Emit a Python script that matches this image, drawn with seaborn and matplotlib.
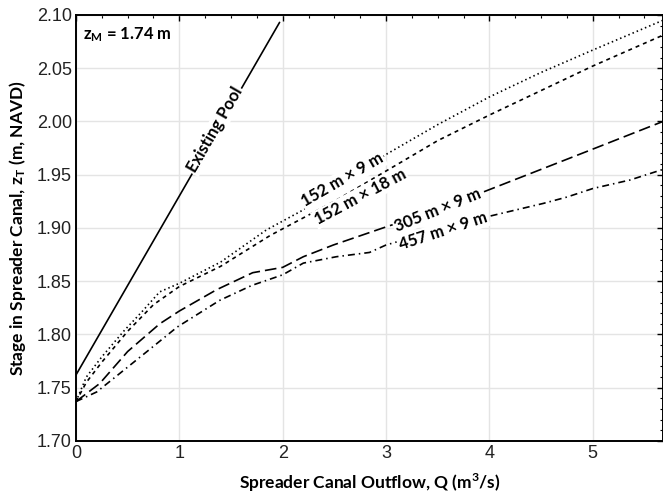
import numpy as np
import pandas as pd
import matplotlib
matplotlib.use("Agg")
import matplotlib.pyplot as plt
import seaborn as sns

# values
pool_q = [0.0, 1.97]
pool_z = [1.762, 2.093]

q_152x9 = [0, 0.1, 0.25, 0.47, 0.635, 0.81, 1.0, 1.4, 1.84, 2.2, 2.5, 3.0, 3.5, 4.0, 4.5, 5.0, 5.68]
z_152x9 = [1.737, 1.760, 1.779, 1.804, 1.821, 1.840, 1.848, 1.868, 1.898, 1.917, 1.935, 1.969,
           1.997, 2.023, 2.046, 2.067, 2.095]

q_152x18 = [0, 0.1, 0.25, 0.5, 0.75, 1.0, 1.4, 1.88, 2.5, 3.15, 3.5, 4.0, 4.5, 5.0, 5.68]
z_152x18 = [1.737, 1.755, 1.774, 1.803, 1.828, 1.845, 1.864, 1.893, 1.925, 1.962, 1.982, 2.006,
            2.029, 2.052, 2.081]

q_305x9 = [0, 0.23, 0.5, 0.81, 1.0, 1.36, 1.71, 2.0, 2.2, 2.49, 3.0, 3.5, 4.0, 4.5, 5.0, 5.68]
z_305x9 = [1.737, 1.754, 1.784, 1.810, 1.822, 1.842, 1.858, 1.863, 1.873, 1.884, 1.901, 1.917,
           1.936, 1.955, 1.974, 2.000]

q_457x9 = [0, 0.2, 0.38, 0.7, 0.98, 1.39, 1.7, 2.0, 2.2, 2.52, 2.84, 3.0, 3.5, 4.0, 4.52, 4.75,
           5.0, 5.36, 5.68]
z_457x9 = [1.737, 1.746, 1.760, 1.785, 1.807, 1.832, 1.846, 1.856, 1.867, 1.873, 1.877, 1.884,
           1.898, 1.911, 1.923, 1.929, 1.937, 1.945, 1.955]

sns.set_style("white")
plt.rcParams['font.family'] = ['Liberation Sans', 'DejaVu Sans']
plt.rcParams['mathtext.fontset'] = 'custom'
plt.rcParams['mathtext.rm'] = 'Lato'
plt.rcParams['mathtext.bf'] = 'Lato:bold'

LBL = dict(family=['Lato', 'DejaVu Sans'], fontweight='bold', color='black')

fig = plt.figure(figsize=(6.63, 4.98), dpi=100)
ax = fig.add_axes([0.1146, 0.1145, 0.8854, 0.8555])

lw = 1.2
series = [
    (pool_q, pool_z, '-'),
    (q_152x9, z_152x9, (0, (0.9, 1.8))),
    (q_152x18, z_152x18, (0, (2.4, 2.4))),
    (q_305x9, z_305x9, (0, (7, 3))),
    (q_457x9, z_457x9, (0, (4.2, 2.4, 0.9, 2.4))),
]
for q, z, ls in series:
    df = pd.DataFrame({'Q': q, 'z': z})
    sns.lineplot(data=df, x='Q', y='z', ax=ax, color='black', lw=lw, linestyle=ls, sort=False)

ax.set_xlim(0, 5.68)
ax.set_ylim(1.70, 2.10)
ax.set_xticks(np.arange(0, 6, 1))
ax.set_yticks(np.arange(1.70, 2.101, 0.05))
ax.set_yticklabels([f"{v:.2f}" for v in np.arange(1.70, 2.101, 0.05)])
ax.xaxis.set_minor_locator(matplotlib.ticker.MultipleLocator(0.25))
ax.yaxis.set_minor_locator(matplotlib.ticker.MultipleLocator(0.01))
ax.tick_params(which='both', direction='in', top=True, right=True, colors='black',
               labelcolor='#222222', labelsize=13)
ax.tick_params(which='major', length=4, width=1, pad=3)
ax.tick_params(which='minor', length=2.5, width=0.8)
ax.grid(True, which='major', color='#e4e4e4', lw=1)
for s in ax.spines.values():
    s.set_color('black')
    s.set_linewidth(1.4)

ax.set_xlabel(r"Spreader Canal Outflow, Q (m$^\mathbf{3}$/s)", fontsize=12.5, labelpad=7, **LBL)
ax.set_ylabel(r"Stage in Spreader Canal, $\mathbf{z_T}$ (m, NAVD)", fontsize=12.5, labelpad=6, **LBL)

box = dict(fc='white', ec='none', pad=1.0)
ax.text(0.012, 0.953, r"$\mathbf{z_M}$ = 1.74 m", transform=ax.transAxes, ha='left', va='center',
        fontsize=12, **LBL)
ax.text(1.344, 1.992, "Existing Pool", rotation=60, ha='center', va='center',
        rotation_mode='anchor', fontsize=12, bbox=box, **LBL)
ax.text(2.58, 1.945, "152 m \u00d7 9 m", rotation=30, ha='center', va='center',
        rotation_mode='anchor', fontsize=12, bbox=box, **LBL)
ax.text(2.75, 1.929, "152 m \u00d7 18 m", rotation=28, ha='center', va='center',
        rotation_mode='anchor', fontsize=12, bbox=box, **LBL)
ax.text(3.50, 1.917, "305 m \u00d7 9 m", rotation=22, ha='center', va='center',
        rotation_mode='anchor', fontsize=12, bbox=box, **LBL)
ax.text(3.55, 1.897, "457 m \u00d7 9 m", rotation=18, ha='center', va='center',
        rotation_mode='anchor', fontsize=12, bbox=box, **LBL)

fig.savefig("out.png", dpi=100)
